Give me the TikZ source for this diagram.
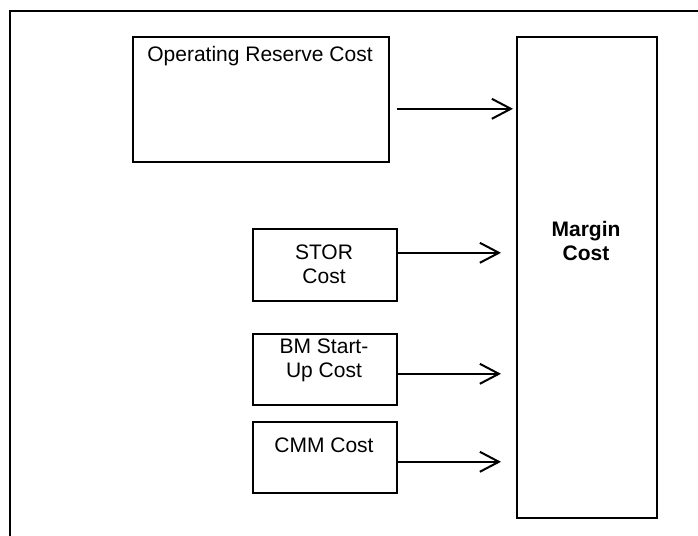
\documentclass[tikz,border=0pt]{standalone}
\usepackage{fontspec}
\setmainfont{Liberation Sans}
\usetikzlibrary{arrows.meta}
\begin{document}
\begin{tikzpicture}[x=1pt,y=-1pt,
  box/.style={draw=black, line width=1.6pt, inner sep=0pt, anchor=north west},
  lbl/.style={inner sep=0pt, anchor=base, font=\fontsize{21pt}{24pt}\selectfont},
  blbl/.style={lbl, font=\fontsize{21pt}{24pt}\selectfont\bfseries},
  arr/.style={line width=2pt, -{Straight Barb[length=19pt,width=20pt,line width=2pt]}},
  frame/.style={line width=1.8pt}]
\useasboundingbox (0,0) rectangle (698,535);
% outer frame (open on right and bottom)
\coordinate (fb) at (10,536);
\coordinate (fc) at (10,11);
\coordinate (fr) at (699,11);
\draw[frame] (fb) -- (fc) -- (fr);
% boxes
\node[box, minimum width=256pt, minimum height=125pt] (op) at (132,36) {};
\node[box, minimum width=140pt, minimum height=481pt] (margin) at (516,36) {};
\node[box, minimum width=144pt, minimum height=72pt] (stor) at (252,228) {};
\node[box, minimum width=144pt, minimum height=71pt] (bm) at (252,333) {};
\node[box, minimum width=144pt, minimum height=71pt] (cmm) at (252,421) {};
% labels
\node[lbl] (optxt) at (260,62) {Operating Reserve Cost};
\node[lbl] (stortxt1) at (324,259) {STOR};
\node[lbl] (stortxt2) at (324,283) {Cost};
\node[lbl] (bmtxt1) at (324,353) {BM Start-};
\node[lbl] (bmtxt2) at (324,377) {Up Cost};
\node[lbl] (cmmtxt) at (324,452) {CMM Cost};
\node[blbl] (mtxt1) at (586,236) {Margin};
\node[blbl] (mtxt2) at (586,260) {Cost};
% arrow start points
\coordinate (ops) at ([yshift=-9.5pt]op.east);
\coordinate (stors) at ([yshift=12pt]stor.east);
\coordinate (bms) at ([yshift=-4.5pt]bm.east);
\coordinate (cmms) at ([yshift=-4.5pt]cmm.east);
% arrows
\draw[arr, shorten <=7pt, shorten >=3pt] (ops) -- (margin.west |- ops);
\draw[arr, shorten >=15pt] (stors) -- (margin.west |- stors);
\draw[arr, shorten >=15pt] (bms) -- (margin.west |- bms);
\draw[arr, shorten >=15pt] (cmms) -- (margin.west |- cmms);
\end{tikzpicture}
\end{document}
